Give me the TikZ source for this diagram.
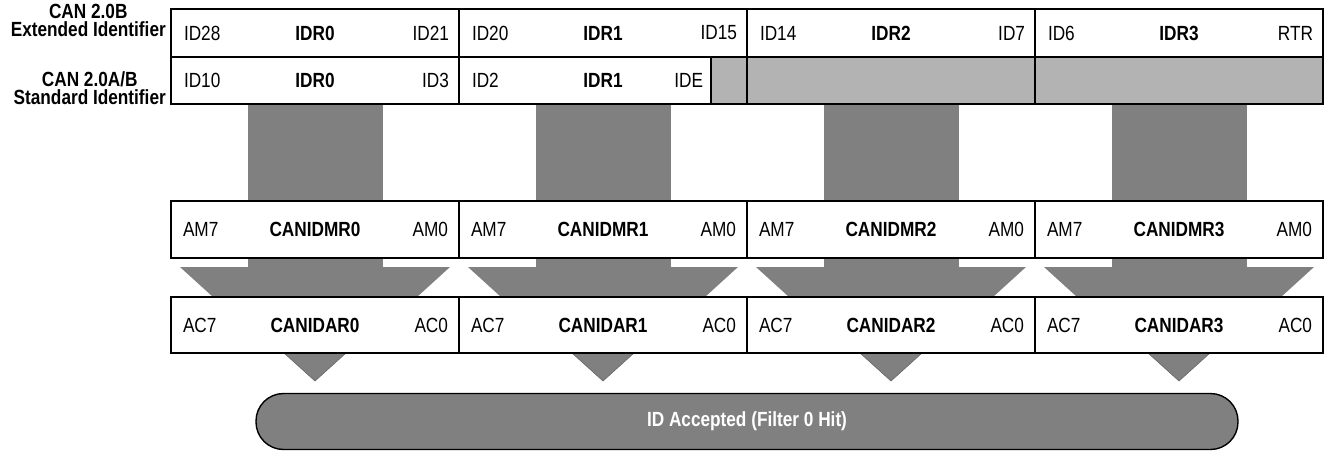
\documentclass[tikz,border=0pt]{standalone}
\usepackage{fontspec}
\setmainfont{Liberation Sans}[FakeStretch=0.84]
\usetikzlibrary{calc}
\definecolor{dk}{RGB}{128,128,128}
\definecolor{lt}{RGB}{179,179,179}
\begin{document}
\begin{tikzpicture}[x=1pt,y=-1pt,
  font=\fontsize{20.5}{17}\selectfont,
  cell/.style={draw=black, line width=1.4pt, fill=white, rectangle, anchor=north west,
    minimum width=288pt, inner sep=0pt, outer sep=0pt},
  grey/.style={cell, fill=lt},
  lbl/.style={inner sep=0pt, outer sep=0pt},
  reg/.style={inner sep=0pt, outer sep=0pt, font=\fontsize{20.5}{17}\selectfont\bfseries},
  side/.style={inner sep=0pt, align=center, anchor=east, font=\fontsize{20.5}{18}\selectfont\bfseries},
  flow/.style={fill=dk},
  tip/.style={fill=dk, draw=black!60, line width=0.6pt, line join=miter}
]
\useasboundingbox (0,0) rectangle (1326,451);

% --- grey flow bars and funnels (behind the registers)
\foreach \i in {0,1,2,3}{
  \pgfmathsetmacro{\c}{315+288*\i}
  \fill[flow] (\c-67.5,104) rectangle (\c+67.5,268);
  \fill[flow] (\c-135,267) -- (\c+135,267) -- (\c+102,297) -- (\c-102,297) -- cycle;
  \filldraw[tip] (\c-31,353) -- (\c+31,353) -- (\c,381) -- cycle;
}

% --- side labels
\node[side] (extlbl) at (166,20) {CAN 2.0B\\Extended Identifier};
\node[side] (stdlbl) at (166,88) {CAN 2.0A/B\\Standard Identifier};

% --- extended identifier row
\node[cell, minimum height=48pt] (e0) at (171,9) {};
\node[cell, minimum height=48pt] (e1) at (459,9) {};
\node[cell, minimum height=48pt] (e2) at (747,9) {};
\node[cell, minimum height=48pt] (e3) at (1035,9) {};
\node[lbl, anchor=west] (e0l) at ([xshift=13pt]e0.west) {ID28};
\node[reg] (e0c) at (e0.center) {IDR0};
\node[lbl, anchor=east] (e0r) at ([xshift=-10pt]e0.east) {ID21};
\node[lbl, anchor=west] (e1l) at ([xshift=13pt]e1.west) {ID20};
\node[reg] (e1c) at (e1.center) {IDR1};
\node[lbl, anchor=east] (e1r) at ([xshift=-10pt]e1.east) {ID15};
\node[lbl, anchor=west] (e2l) at ([xshift=13pt]e2.west) {ID14};
\node[reg] (e2c) at (e2.center) {IDR2};
\node[lbl, anchor=east] (e2r) at ([xshift=-10pt]e2.east) {ID7};
\node[lbl, anchor=west] (e3l) at ([xshift=13pt]e3.west) {ID6};
\node[reg] (e3c) at (e3.center) {IDR3};
\node[lbl, anchor=east] (e3r) at ([xshift=-10pt]e3.east) {RTR};

% --- standard identifier row
\node[cell, minimum height=47pt] (s0) at (171,57) {};
\node[cell, minimum height=47pt, minimum width=252pt] (s1) at (459,57) {};
\node[grey, minimum height=47pt, minimum width=36pt] (s1g) at (711,57) {};
\node[grey, minimum height=47pt] (s2) at (747,57) {};
\node[grey, minimum height=47pt] (s3) at (1035,57) {};
\node[lbl, anchor=west] (s0l) at ([xshift=13pt]s0.west) {ID10};
\node[reg] (s0c) at (e0c.center |- s0.center) {IDR0};
\node[lbl, anchor=east] (s0r) at ([xshift=-10pt]s0.east) {ID3};
\node[lbl, anchor=west] (s1l) at ([xshift=13pt]s1.west) {ID2};
\node[reg] (s1c) at (e1c.center |- s1.center) {IDR1};
\node[lbl, anchor=east] (s1r) at ([xshift=-8pt]s1.east) {IDE};

% --- mask registers
\foreach \i in {0,1,2,3}{
  \pgfmathsetmacro{\x}{171+288*\i}
  \node[cell, minimum height=57pt] (m\i) at (\x,201) {};
  \node[lbl, anchor=west] (m\i l) at ([xshift=12pt]m\i.west) {AM7};
  \node[reg] (m\i c) at (m\i.center) {CANIDMR\i};
  \node[lbl, anchor=east] (m\i r) at ([xshift=-11pt]m\i.east) {AM0};
}

% --- acceptance registers
\foreach \i in {0,1,2,3}{
  \pgfmathsetmacro{\x}{171+288*\i}
  \node[cell, minimum height=56pt] (a\i) at (\x,297) {};
  \node[lbl, anchor=west] (a\i l) at ([xshift=12pt]a\i.west) {AC7};
  \node[reg] (a\i c) at (a\i.center) {CANIDAR\i};
  \node[lbl, anchor=east] (a\i r) at ([xshift=-11pt]a\i.east) {AC0};
}

% --- result bar
\node[draw=black, line width=1.4pt, fill=dk, rounded corners=27.5pt,
      minimum width=982pt, minimum height=56pt, inner sep=0pt,
      text=white, font=\fontsize{20.5}{17}\selectfont\bfseries] (hit) at (747,421.5)
      {ID Accepted (Filter 0 Hit)};
\end{tikzpicture}
\end{document}
